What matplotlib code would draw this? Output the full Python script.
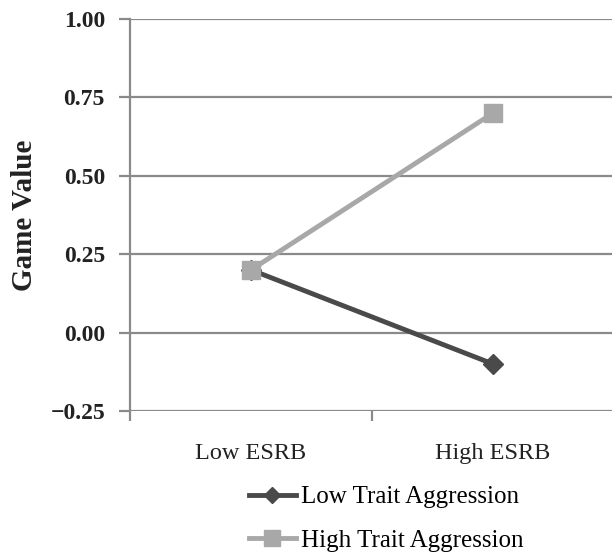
import matplotlib
matplotlib.use("Agg")
import matplotlib.pyplot as plt
from matplotlib.ticker import FixedLocator

categories = ["Low ESRB", "High ESRB"]
low_trait = [0.20, -0.10]
high_trait = [0.20, 0.70]
series_names = ["Low Trait Aggression", "High Trait Aggression"]
yticks = [-0.25, 0.00, 0.25, 0.50, 0.75, 1.00]
ytick_labels = ["\u22120.25", "0.00", "0.25", "0.50", "0.75", "1.00"]

plt.rcParams['font.family'] = ['Liberation Serif', 'DejaVu Serif']

fig = plt.figure(figsize=(6.12, 5.57), dpi=100)
ax = fig.add_axes([130/612, (557-411)/557, 484/612, 392/557])

x = list(range(len(categories)))
dark = "#4a4a4a"
light = "#a8a8a8"
grid_c = "#8a8a8a"

for yv in yticks:
    ax.axhline(yv, color=grid_c, lw=1.6, zorder=1)

l1, = ax.plot(x, low_trait, color=dark, lw=3.5, marker="D", ms=10, mec=dark, mfc=dark, zorder=3,
              label=series_names[0])
l2, = ax.plot(x, high_trait, color=light, lw=3.5, marker="s", ms=13, mec=light, mfc=light, zorder=4,
              label=series_names[1])

ax.set_xlim(-0.5, 1.5)
ax.set_ylim(-0.25, 1.0)
for s in ["top", "right", "bottom"]:
    ax.spines[s].set_visible(False)
ax.spines["left"].set_color(grid_c)
ax.spines["left"].set_linewidth(1.6)

ax.set_yticks(yticks)
ax.set_yticklabels(ytick_labels, fontsize=17, fontweight="bold", color="#222222")
ax.tick_params(axis="y", length=8, width=1.6, color=grid_c, pad=10)

ax.set_xticks([-0.5, 0.5, 1.5])
ax.set_xticklabels([])
ax.xaxis.set_minor_locator(FixedLocator(x))
ax.set_xticklabels(categories, minor=True, fontsize=17.5, color="#222222")
ax.tick_params(axis="x", which="major", length=7, width=1.6, color=grid_c, direction="out")
ax.tick_params(axis="x", which="minor", length=0, pad=23)

ax.set_ylabel("Game Value", fontsize=21, fontweight="bold", color="#222222")
ax.yaxis.set_label_coords(-0.19, 0.5)

leg = fig.legend(handles=[l1, l2], loc="center", bbox_to_anchor=(386/612, 1 - 519/557),
                 frameon=False, fontsize=18, handlelength=1.9, handletextpad=0.2,
                 labelspacing=0.85, markerscale=0.85)

fig.savefig("out.png", dpi=100)
